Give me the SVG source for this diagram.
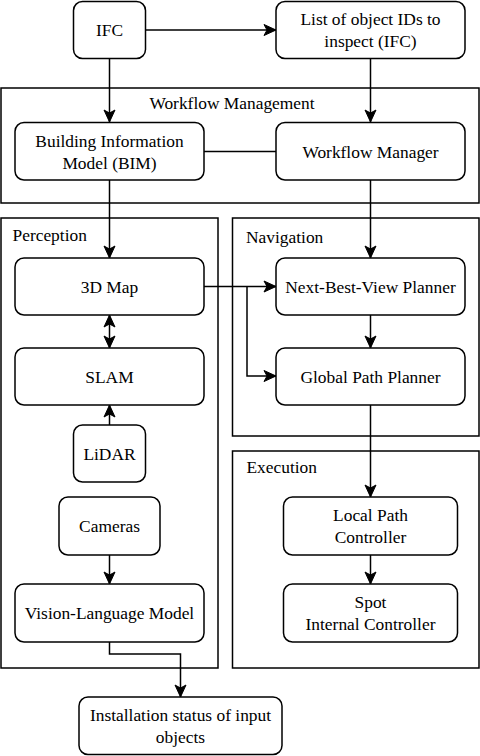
<svg xmlns="http://www.w3.org/2000/svg" width="480" height="756" viewBox="0 0 480 756">
<style>
  .box{fill:#fff;stroke:#000;stroke-width:1.5}
  .cont{fill:none;stroke:#000;stroke-width:1.5}
  .t{font-family:"Liberation Serif","Times New Roman",serif;font-size:17.4px;fill:#000;text-anchor:middle}
  .tl{font-family:"Liberation Serif","Times New Roman",serif;font-size:17.4px;fill:#000}
  .c{fill:none;stroke:#000;stroke-width:1.5}
</style>
<defs>
  <marker id="ah" markerUnits="userSpaceOnUse" markerWidth="14" markerHeight="14" viewBox="-13 -7 14 14" refX="0" refY="0" orient="auto">
    <path d="M0,0 L-12,-5.5 L-9,0 L-12,5.5 Z" fill="#000" stroke="#000" stroke-width="1"/>
  </marker>
  <marker id="as" markerUnits="userSpaceOnUse" markerWidth="14" markerHeight="14" viewBox="-1 -7 14 14" refX="0" refY="0" orient="auto">
    <path d="M0,0 L12,-5.5 L9,0 L12,5.5 Z" fill="#000" stroke="#000" stroke-width="1"/>
  </marker>
</defs>
<rect width="480" height="756" fill="#fff"/>
<g id="containers">
  <g id="workflow-management">
    <rect class="cont" x="1" y="88" width="478" height="115"/>
    <text class="t" x="232" y="109">Workflow Management</text>
  </g>
  <g id="perception">
    <rect class="cont" x="1" y="218" width="217" height="450"/>
    <text class="tl" x="12.5" y="241">Perception</text>
  </g>
  <g id="navigation">
    <rect class="cont" x="232.5" y="218" width="246.5" height="218"/>
    <text class="tl" x="246" y="242.5">Navigation</text>
  </g>
  <g id="execution">
    <rect class="cont" x="232.5" y="451" width="246.5" height="217"/>
    <text class="tl" x="246.5" y="473">Execution</text>
  </g>
</g>
<g id="connectors">
  <line class="c" x1="146" y1="30" x2="276" y2="30" marker-end="url(#ah)"/>
  <line class="c" x1="109.5" y1="59" x2="109.5" y2="122" marker-end="url(#ah)"/>
  <line class="c" x1="370.5" y1="59" x2="370.5" y2="122" marker-end="url(#ah)"/>
  <line class="c" x1="204" y1="151.5" x2="276" y2="151.5"/>
  <line class="c" x1="109.5" y1="180" x2="109.5" y2="258" marker-end="url(#ah)"/>
  <line class="c" x1="370.5" y1="180" x2="370.5" y2="258" marker-end="url(#ah)"/>
  <line class="c" x1="204" y1="286.5" x2="276" y2="286.5" marker-end="url(#ah)"/>
  <polyline class="c" points="247,286.5 247,376 276,376" marker-end="url(#ah)"/>
  <line class="c" x1="109.5" y1="315" x2="109.5" y2="348" marker-start="url(#as)" marker-end="url(#ah)"/>
  <line class="c" x1="370.5" y1="315" x2="370.5" y2="348" marker-end="url(#ah)"/>
  <line class="c" x1="109.5" y1="425" x2="109.5" y2="405" marker-end="url(#ah)"/>
  <line class="c" x1="370.5" y1="405" x2="370.5" y2="497" marker-end="url(#ah)"/>
  <line class="c" x1="109.5" y1="555" x2="109.5" y2="584" marker-end="url(#ah)"/>
  <line class="c" x1="370.5" y1="555" x2="370.5" y2="584" marker-end="url(#ah)"/>
  <polyline class="c" points="109.5,642 109.5,654 180.5,654 180.5,697" marker-end="url(#ah)"/>
</g>
<g id="ifc">
  <rect class="box" x="73.5" y="1.5" width="72" height="57" rx="9"/>
  <text class="t" x="109.5" y="36">IFC</text>
</g>
<g id="object-list">
  <rect class="box" x="276" y="1.5" width="189" height="57" rx="9"/>
  <text class="t" x="370.5" y="25">List of object IDs to</text>
  <text class="t" x="370.5" y="47">inspect (IFC)</text>
</g>
<g id="bim">
  <rect class="box" x="15" y="122.5" width="189" height="57.5" rx="9"/>
  <text class="t" x="109.5" y="146.5">Building Information</text>
  <text class="t" x="109.5" y="168.5">Model (BIM)</text>
</g>
<g id="workflow-manager">
  <rect class="box" x="276" y="122.5" width="189" height="57.5" rx="9"/>
  <text class="t" x="370.5" y="157.5">Workflow Manager</text>
</g>
<g id="map3d">
  <rect class="box" x="15" y="258" width="189" height="57" rx="9"/>
  <text class="t" x="109.5" y="292.5">3D Map</text>
</g>
<g id="nbv">
  <rect class="box" x="276" y="258" width="189" height="57" rx="9"/>
  <text class="t" x="370.5" y="292.5">Next-Best-View Planner</text>
</g>
<g id="slam">
  <rect class="box" x="15" y="348" width="189" height="57" rx="9"/>
  <text class="t" x="109.5" y="382.5">SLAM</text>
</g>
<g id="gpp">
  <rect class="box" x="276" y="348" width="189" height="57" rx="9"/>
  <text class="t" x="370.5" y="382.5">Global Path Planner</text>
</g>
<g id="lidar">
  <rect class="box" x="73.5" y="425" width="72" height="57" rx="9"/>
  <text class="t" x="109.5" y="459.5">LiDAR</text>
</g>
<g id="cameras">
  <rect class="box" x="59" y="497" width="101" height="58" rx="9"/>
  <text class="t" x="109.5" y="532">Cameras</text>
</g>
<g id="lpc">
  <rect class="box" x="283.5" y="497" width="174" height="58" rx="9"/>
  <text class="t" x="370.5" y="521">Local Path</text>
  <text class="t" x="370.5" y="543">Controller</text>
</g>
<g id="vlm">
  <rect class="box" x="15" y="584" width="189" height="58" rx="9"/>
  <text class="t" x="109.5" y="619">Vision-Language Model</text>
</g>
<g id="spot">
  <rect class="box" x="283.5" y="584" width="174" height="58" rx="9"/>
  <text class="t" x="370.5" y="608">Spot</text>
  <text class="t" x="370.5" y="630">Internal Controller</text>
</g>
<g id="installation">
  <rect class="box" x="79" y="697" width="203" height="57.5" rx="9"/>
  <text class="t" x="180.5" y="721">Installation status of input</text>
  <text class="t" x="180.5" y="743">objects</text>
</g>
</svg>
